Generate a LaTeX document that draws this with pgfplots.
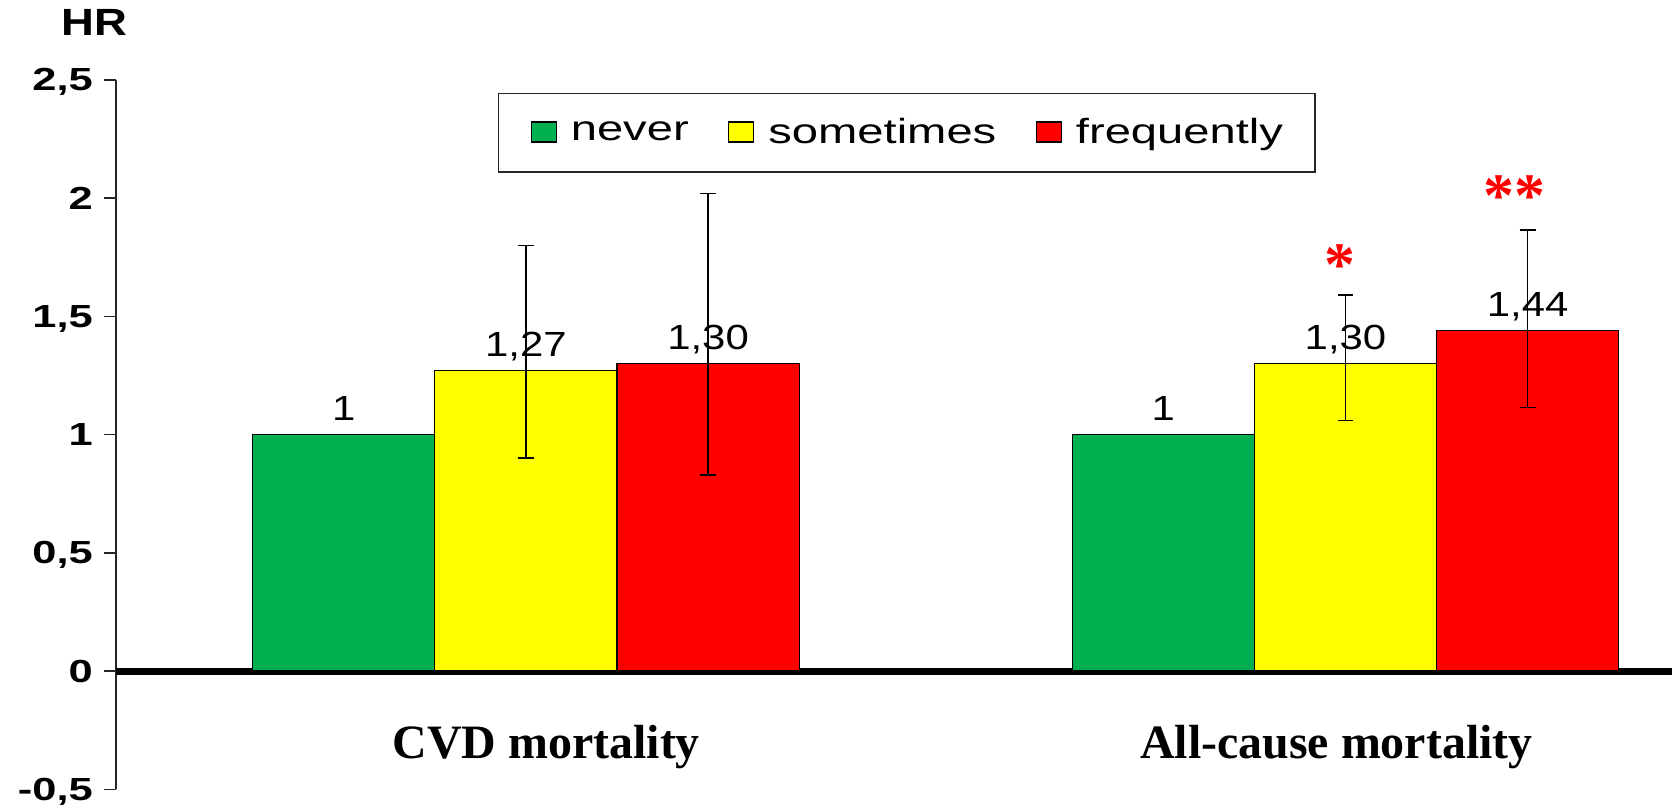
\documentclass[border=0pt]{standalone}
\usepackage{fontspec}
\setmainfont{Liberation Sans}
\newfontfamily\legfont[FakeStretch=1.35]{Liberation Sans}
\newfontfamily\tickfont[FakeStretch=1.36]{Liberation Sans}
\newfontfamily\valfont[FakeStretch=1.2]{Liberation Sans}
\newfontfamily\serfont{Liberation Serif}
\usepackage{pgfplots}
\pgfplotsset{compat=1.18}
\definecolor{barGreen}{HTML}{00B050}
\definecolor{barYellow}{HTML}{FFFF00}
\definecolor{barRed}{HTML}{FF0000}

\begin{document}
\begin{tikzpicture}
\begin{axis}[name=ax,
  scale only axis, width=779.5pt, height=355.5pt,
  xmin=-1.252, xmax=7.29, ymin=-0.5, ymax=2.5,
  axis lines*=left,
  x axis line style={draw=none}, xtick style={draw=none},
  y axis line style={line width=0.75pt, black!85},
  ytick style={line width=0.75pt, black!85},
  tick align=outside, major tick length=6pt,
  ytick={-0.5,0,0.5,1,1.5,2,2.5},
  /pgf/number format/use comma,
  /pgf/number format/assume math mode=true,
  yticklabel style={font=\tickfont\bfseries\fontsize{16pt}{18pt}\selectfont, text depth=0pt, xshift=-2pt},
  xtick={1.112,5.45},
  xticklabels={CVD mortality, All-cause mortality},
  xticklabel style={font=\serfont\bfseries\fontsize{24pt}{26pt}\selectfont, anchor=base, yshift=21.5pt},
  extra y ticks={0}, extra y tick labels={},
  extra y tick style={grid=major, major grid style={line width=3.5pt, black}, tick style={draw=none}},
  ylabel={HR},
  every axis y label/.style={at={(rel axis cs:0,1)}, anchor=center, xshift=-10.5pt, yshift=28.5pt,
    font=\valfont\bfseries\fontsize{19pt}{20pt}\selectfont},
  legend style={at={(0.2457,0.9817)}, anchor=north west, draw=black!85, line width=0.75pt,
    legend columns=-1, font=\legfont\fontsize{17.5pt}{19pt}\selectfont,
    inner xsep=16pt, inner ysep=10.5pt,
    nodes={inner xsep=0pt},
    /tikz/every odd column/.append style={column sep=7pt},
    /tikz/every even column/.append style={column sep=19.8pt}},
  legend image code/.code={\draw[#1, draw=black, line width=0.6pt] (0pt,-4.7pt) rectangle (12.5pt,5.3pt);},
  nodes near coords style={font=\valfont\fontsize{17.5pt}{20pt}\selectfont, inner sep=0pt, text depth=0pt, yshift=6.75pt},
]
% never
\addplot[ybar, bar width=1, bar shift=0pt, fill=barGreen, draw=black, line width=0.6pt,
  nodes near coords, point meta=explicit symbolic]
  table[x=x, y=y, meta=lab] {
x y lab
0 1 1
4.5 1 1
};
% sometimes
\addplot[ybar, bar width=1, bar shift=0pt, fill=barYellow, draw=black, line width=0.6pt,
  nodes near coords, point meta=explicit symbolic,
  error bars/.cd, y dir=both, y explicit,
  error bar style={line width=0.8pt, black},
  error mark options={rotate=90, black, line width=0.8pt, mark size=4pt}]
  table[x=x, y=y, y error plus=ep, y error minus=em, meta=lab] {
x y ep em lab
1 1.27 0.53 0.37 1,27
5.5 1.30 0.29 0.24 1,30
};
% frequently
\addplot[ybar, bar width=1, bar shift=0pt, fill=barRed, draw=black, line width=0.6pt,
  nodes near coords, point meta=explicit symbolic,
  error bars/.cd, y dir=both, y explicit,
  error bar style={line width=0.8pt, black},
  error mark options={rotate=90, black, line width=0.8pt, mark size=4pt}]
  table[x=x, y=y, y error plus=ep, y error minus=em, meta=lab] {
x y ep em lab
2 1.30 0.72 0.47 1,30
6.5 1.44 0.425 0.325 1,44
};
% significance marks
\addplot[draw=none, mark=none, forget plot, nodes near coords, point meta=explicit symbolic,
  nodes near coords style={text=red, font=\serfont\bfseries\fontsize{31pt}{31pt}\selectfont, anchor=center, yshift=0pt}]
  table[x=x, y=y, meta=lab] {
x y lab
5.47 1.66 *
6.43 1.95 **
};
\legend{never, sometimes, frequently}
\end{axis}
\path ([xshift=-58pt, yshift=-8pt]ax.south west) rectangle ([yshift=40pt]ax.north east);
\end{tikzpicture}
\end{document}
